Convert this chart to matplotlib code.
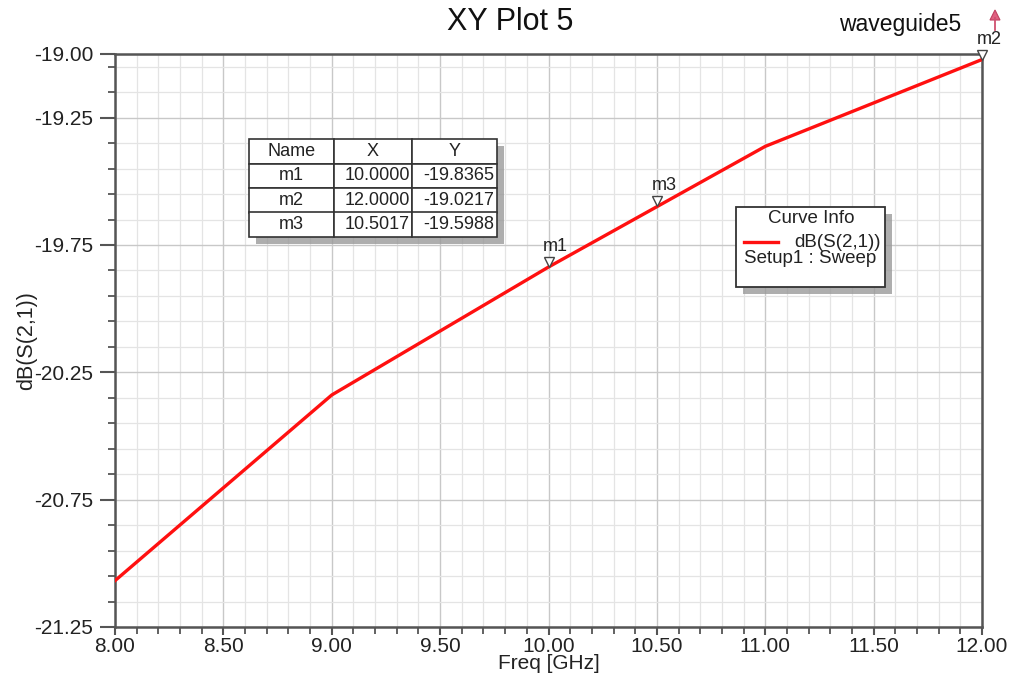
import matplotlib
matplotlib.use("Agg")
import numpy as np
import matplotlib.pyplot as plt
import matplotlib.transforms as mtransforms
from matplotlib.patches import Rectangle
from matplotlib.ticker import MultipleLocator, FixedLocator, FormatStrFormatter

plt.rcParams['font.family'] = ['Liberation Sans', 'DejaVu Sans']

# Swept S21 magnitude of the waveguide
freq_ghz = [8.0, 9.0, 10.0, 11.0, 12.0]
s21_db = [-21.068, -20.339, -19.8365, -19.3627, -19.0217]

# Markers placed on the trace
marker_names = ['m1', 'm2', 'm3']
marker_x = [10.0, 12.0, 10.5017]
marker_y = [-19.8365, -19.0217, -19.5988]

# y ticks: the axis ends plus every 0.5 dB from the bottom
y_major_ticks = [-21.25, -20.75, -20.25, -19.75, -19.25, -19.00]

title = 'XY Plot 5'
design_name = 'waveguide5'
trace_name = 'dB(S(2,1))'
sweep_name = 'Setup1 : Sweep'

W, H = 1009, 679
fig = plt.figure(figsize=(W / 100, H / 100), dpi=100, facecolor='white')
ax = fig.add_axes([115 / W, 1 - 627 / H, 867 / W, 573 / H])

ax.set_xlim(8.0, 12.0)
ax.set_ylim(-21.25, -19.0)

# grid: light minor lines, slightly darker major lines
ax.xaxis.set_major_locator(MultipleLocator(0.5))
ax.xaxis.set_minor_locator(MultipleLocator(0.1))
ax.yaxis.set_major_locator(FixedLocator(y_major_ticks))
ax.yaxis.set_minor_locator(FixedLocator(np.round(np.arange(-21.15, -19.0, 0.1), 2)))
ax.xaxis.set_major_formatter(FormatStrFormatter('%.2f'))
ax.yaxis.set_major_formatter(FormatStrFormatter('%.2f'))
ax.grid(which='major', color='#c8c8c8', linewidth=1.0, zorder=0)
ax.grid(which='minor', color='#e4e4e4', linewidth=0.9, zorder=0)
ax.set_axisbelow(True)

for sp in ax.spines.values():
    sp.set_color('#555555')
    sp.set_linewidth(1.8)

ax.tick_params(axis='y', which='major', direction='out', length=10.5, width=1.5,
               color='#555555', labelsize=15, pad=5, labelcolor='#222222')
ax.tick_params(axis='y', which='minor', direction='out', length=5, width=1.3,
               color='#555555')
ax.tick_params(axis='x', which='major', direction='out', length=6, width=1.5,
               color='#555555', labelsize=15, pad=1.0, labelcolor='#222222')
ax.tick_params(axis='x', which='minor', direction='out', length=5, width=1.3,
               color='#555555')

ax.set_xlabel('Freq [GHz]', fontsize=15, color='#222222', labelpad=-1.0)
ax.set_ylabel(trace_name, fontsize=15.5, color='#222222', labelpad=-2)

# the trace
trace_color = '#ff1010'
ax.plot(freq_ghz, s21_db, color=trace_color, linewidth=2.4, zorder=5,
        solid_joinstyle='round')

# marker glyphs sit just above the trace, label above the glyph
tri_trans = mtransforms.offset_copy(ax.transData, fig=fig, x=0, y=5, units='dots')
ax.plot(marker_x, marker_y, linestyle='none', marker='v', markersize=7,
        markerfacecolor='white', markeredgecolor='#444444', markeredgewidth=1.0,
        transform=tri_trans, zorder=6, clip_on=False)
for name, mx, my in zip(marker_names, marker_x, marker_y):
    ax.annotate(name, xy=(mx, my), xytext=(7, 12), textcoords='offset pixels',
                ha='center', va='bottom', fontsize=13, color='#222222',
                annotation_clip=False, zorder=7)

# marker table
shadow_px = 7
tx0, tx1, ty0, ty1 = 249, 497, 139, 237
def ax_box(x0, y0, x1, y1):
    return ((x0 - 115) / 867, (627 - y1) / 573, (x1 - x0) / 867, (y1 - y0) / 573)

bx, by, bw, bh = ax_box(tx0 + shadow_px, ty0 + shadow_px, tx1 + shadow_px, ty1 + shadow_px)
ax.add_patch(Rectangle((bx, by), bw, bh, transform=ax.transAxes,
                       facecolor='#9a9a9a', edgecolor='none', zorder=8, alpha=0.8))
cells = [[n, '%.4f' % x, '%.4f' % y] for n, x, y in zip(marker_names, marker_x, marker_y)]
bx, by, bw, bh = ax_box(tx0, ty0, tx1, ty1)
tbl = ax.table(cellText=cells, colLabels=['Name', 'X', 'Y'],
               colWidths=[85 / 248, 78 / 248, 85 / 248],
               cellLoc='center', bbox=[bx, by, bw, bh], zorder=9)
tbl.auto_set_font_size(False)
for (r, c), cell in tbl.get_celld().items():
    cell.set_facecolor('white')
    cell.set_edgecolor('#333333')
    cell.set_linewidth(1.2)
    cell.get_text().set_fontsize(13)
    cell.get_text().set_color('#222222')
    if r > 0 and c > 0:
        cell.get_text().set_ha('right')
        cell.PAD = 0.03

# curve info box
lx0, lx1, ly0, ly1 = 736, 885, 207, 287
bx, by, bw, bh = ax_box(lx0 + shadow_px, ly0 + shadow_px, lx1 + shadow_px, ly1 + shadow_px)
ax.add_patch(Rectangle((bx, by), bw, bh, transform=ax.transAxes,
                       facecolor='#9a9a9a', edgecolor='none', zorder=8, alpha=0.8))
bx, by, bw, bh = ax_box(lx0, ly0, lx1, ly1)
ax.add_patch(Rectangle((bx, by), bw, bh, transform=ax.transAxes,
                       facecolor='white', edgecolor='#333333', linewidth=1.3, zorder=9))

def axp(px, py):
    return ((px - 115) / 867, (627 - py) / 573)

ax.text(*axp(811, 218), 'Curve Info', transform=ax.transAxes, ha='center',
        va='center', fontsize=13.5, color='#222222', zorder=10)
(sx0, sy), (sx1, _) = axp(744, 242), axp(778, 242)
ax.plot([sx0, sx1], [sy, sy], color=trace_color, linewidth=2.4,
        transform=ax.transAxes, zorder=10)
ax.text(*axp(881, 242), trace_name, transform=ax.transAxes, ha='right',
        va='center', fontsize=13.5, color='#222222', zorder=10)
ax.text(*axp(744, 258), sweep_name, transform=ax.transAxes, ha='left',
        va='center', fontsize=13.5, color='#222222', zorder=10)

# titles
fig.text(510 / W, 1 - 22 / H, title, ha='center', va='center', fontsize=22,
         color='#111111')
fig.text(900 / W, 1 - 24 / H, design_name, ha='center', va='center', fontsize=16.5,
         color='#111111')

# off-scale indicator for the m2 marker
fig.patches.append(plt.Polygon([[990 / W, 1 - 20 / H], [1000 / W, 1 - 20 / H],
                                [995 / W, 1 - 10 / H]], closed=True,
                               transform=fig.transFigure, facecolor='#e06080',
                               edgecolor='#c04060', linewidth=0.8))
fig.lines.append(plt.Line2D([995 / W, 995 / W], [1 - 30 / H, 1 - 18 / H],
                            transform=fig.transFigure, color='#d05070', linewidth=1.3))

fig.savefig('out.png', dpi=100, facecolor='white')
